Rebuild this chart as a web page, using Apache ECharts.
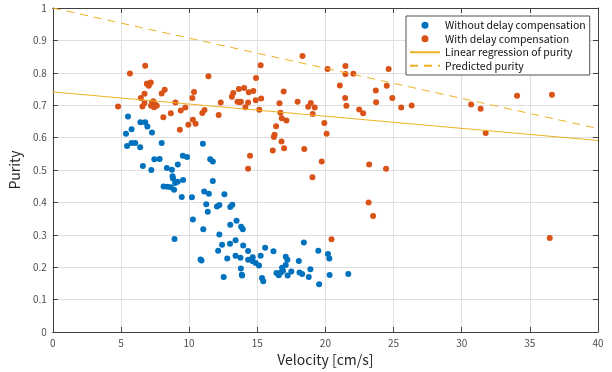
<!DOCTYPE html>
<html>
<head>
<meta charset="utf-8">
<script src="https://cdn.jsdelivr.net/npm/echarts@6/dist/echarts.min.js"></script>
<style>
  html, body { margin: 0; padding: 0; background: #fff; }
  #chart { width: 612px; height: 372px; }
</style>
</head>
<body>
<div id="chart"></div>
<script>
// velocity [cm/s], purity
var withoutComp = [
  [5.52,0.665],[5.37,0.612],[5.78,0.626],[5.45,0.574],[5.78,0.583],[6.05,0.583],[6.41,0.570],
  [6.43,0.647],[6.78,0.647],[6.94,0.634],[7.28,0.616],[6.61,0.512],[7.23,0.500],[7.45,0.533],
  [7.84,0.534],[7.99,0.583],[8.37,0.506],[8.74,0.501],[8.79,0.481],[8.82,0.474],[9.17,0.517],
  [9.54,0.544],[9.85,0.540],[8.13,0.449],[8.42,0.448],[8.66,0.447],[8.90,0.439],[8.98,0.460],
  [9.17,0.464],[9.56,0.469],[9.46,0.417],[10.21,0.416],[10.28,0.347],[8.93,0.287],[11.01,0.581],
  [11.11,0.434],[11.45,0.427],[11.26,0.394],[11.37,0.371],[11.04,0.317],[11.55,0.533],[11.74,0.526],
  [11.74,0.466],[10.84,0.224],[10.91,0.221],[12.59,0.425],[12.05,0.387],[12.22,0.392],[13.02,0.386],
  [13.17,0.393],[13.02,0.331],[13.48,0.343],[13.82,0.325],[13.94,0.317],[12.22,0.301],[12.42,0.269],
  [12.13,0.251],[13.0,0.272],[13.41,0.283],[13.97,0.267],[14.33,0.250],[12.80,0.227],[13.41,0.235],
  [13.77,0.229],[14.33,0.223],[14.67,0.231],[14.67,0.218],[14.89,0.213],[15.13,0.205],[15.25,0.235],
  [15.58,0.260],[16.19,0.249],[13.80,0.196],[13.87,0.177],[13.89,0.174],[12.54,0.170],[15.35,0.167],
  [15.44,0.157],[17.09,0.232],[17.21,0.223],[17.09,0.207],[16.82,0.198],[16.89,0.189],[16.73,0.184],
  [16.41,0.182],[16.58,0.175],[17.23,0.174],[17.50,0.187],[18.05,0.219],[18.42,0.276],[18.10,0.184],
  [18.30,0.179],[18.78,0.170],[18.90,0.194],[19.54,0.147],[19.48,0.251],[20.19,0.241],[20.29,0.227],
  [20.31,0.176],[21.68,0.179]
];

var withComp = [
  [4.79,0.696],[5.66,0.798],[6.78,0.822],[6.46,0.722],[6.73,0.735],[6.58,0.696],[6.73,0.707],
  [6.90,0.766],[7.09,0.768],[7.19,0.770],[7.04,0.760],[7.29,0.709],[7.38,0.712],[7.50,0.702],
  [7.21,0.698],[7.43,0.694],[7.63,0.698],[7.99,0.736],[8.21,0.748],[8.11,0.663],[8.66,0.675],
  [9.0,0.708],[9.32,0.624],[9.39,0.684],[9.73,0.693],[9.95,0.640],[10.28,0.655],[10.48,0.643],
  [10.24,0.722],[10.36,0.741],[10.97,0.676],[11.13,0.685],[11.42,0.789],[12.17,0.670],[12.32,0.708],
  [13.14,0.726],[13.24,0.738],[13.55,0.711],[13.72,0.709],[13.80,0.711],[13.65,0.750],[14.04,0.753],
  [14.38,0.740],[14.71,0.744],[14.13,0.694],[14.33,0.708],[14.89,0.715],[15.29,0.721],[14.91,0.784],
  [15.25,0.823],[15.15,0.686],[16.63,0.706],[16.70,0.677],[16.38,0.635],[16.27,0.609],[16.22,0.602],
  [16.14,0.560],[14.47,0.544],[14.33,0.504],[16.94,0.742],[16.80,0.660],[17.14,0.653],[16.78,0.588],
  [16.97,0.567],[17.96,0.711],[18.32,0.852],[18.74,0.695],[18.93,0.707],[19.22,0.693],[19.07,0.673],
  [18.45,0.565],[19.92,0.645],[20.09,0.612],[20.16,0.812],[21.06,0.761],[21.45,0.722],[21.54,0.698],
  [21.47,0.821],[21.47,0.796],[22.05,0.797],[22.48,0.687],[22.77,0.675],[23.70,0.745],[23.72,0.709],
  [24.64,0.812],[24.50,0.760],[24.91,0.722],[25.56,0.693],[26.33,0.699],[19.73,0.526],[23.21,0.517],
  [24.45,0.504],[19.05,0.478],[23.17,0.400],[23.50,0.358],[20.45,0.286],[36.46,0.290],[30.69,0.702],
  [31.39,0.689],[31.76,0.614],[34.06,0.729],[36.62,0.732]
];

// end points of the two straight lines
var regressionLine = [[0, 0.741], [40, 0.591]];
var predictedLine = [[0, 1.0], [40, 0.628]];

var seriesNames = ['Without delay compensation', 'With delay compensation',
                   'Linear regression of purity', 'Predicted purity'];

var font = '"Noto Sans CJK JP", "Noto Sans", sans-serif';
var axisColor = '#404040';
var labelColor = '#4d4d4d';
var gridColor = '#e0e0e0';

var chart = echarts.init(document.getElementById('chart'));

function mainAxis(pos, min, max, interval, name, nameGap) {
    return {
        type: 'value',
        position: pos,
        min: min,
        max: max,
        interval: interval,
        name: name,
        nameLocation: 'middle',
        nameGap: nameGap,
        nameTextStyle: { color: '#262626', fontSize: 14, fontFamily: font },
        axisLine: { show: true, lineStyle: { color: axisColor, width: 1 } },
        axisTick: { show: true, inside: true, length: 5, lineStyle: { color: axisColor } },
        axisLabel: { color: labelColor, fontSize: 10, fontFamily: font, margin: 6 },
        splitLine: { show: true, lineStyle: { color: gridColor, width: 1 } }
    };
}

function boxAxis(pos, min, max, interval) {
    return {
        type: 'value',
        position: pos,
        min: min,
        max: max,
        interval: interval,
        axisLine: { show: true, onZero: false, lineStyle: { color: axisColor, width: 1 } },
        axisTick: { show: true, inside: true, length: 5, lineStyle: { color: axisColor } },
        axisLabel: { show: false },
        splitLine: { show: false }
    };
}

var option = {
    animation: false,
    backgroundColor: '#fff',
    grid: { left: 47, right: 14, top: 8, bottom: 40 },
    xAxis: [
        mainAxis('bottom', 0, 40, 5, 'Velocity [cm/s]', 15),
        boxAxis('top', 0, 40, 5)
    ],
    yAxis: [
        mainAxis('left', 0, 1, 0.1, 'Purity', 24),
        boxAxis('right', 0, 1, 0.1)
    ],
    legend: {
        orient: 'vertical',
        left: 406,
        top: 16,
        padding: [4, 4, 4, 3],
        itemWidth: 30,
        itemHeight: 7,
        itemGap: 3,
        backgroundColor: '#fff',
        borderColor: '#505050',
        borderWidth: 1,
        borderRadius: 0,
        selectedMode: false,
        textStyle: { color: '#111', fontSize: 10.5, fontFamily: font },
        data: [
            { name: seriesNames[0] },
            { name: seriesNames[1] },
            { name: seriesNames[2], itemStyle: { opacity: 0 } },
            { name: seriesNames[3], itemStyle: { opacity: 0 } }
        ]
    },
    series: [
        {
            name: seriesNames[0],
            type: 'scatter',
            symbol: 'circle',
            symbolSize: 6,
            itemStyle: { color: '#0072BD', opacity: 1 },
            data: withoutComp,
            z: 3
        },
        {
            name: seriesNames[1],
            type: 'scatter',
            symbol: 'circle',
            symbolSize: 6,
            itemStyle: { color: '#D95319', opacity: 1 },
            data: withComp,
            z: 3
        },
        {
            name: seriesNames[2],
            type: 'line',
            showSymbol: false,
            symbol: 'none',
            lineStyle: { color: '#EDB120', width: 1 },
            itemStyle: { color: '#EDB120' },
            data: regressionLine,
            z: 4
        },
        {
            name: seriesNames[3],
            type: 'line',
            showSymbol: false,
            symbol: 'none',
            lineStyle: { color: '#EDB120', width: 1, type: [8, 6] },
            itemStyle: { color: '#EDB120' },
            data: predictedLine,
            z: 4
        }
    ]
};

chart.setOption(option);
</script>
</body>
</html>
